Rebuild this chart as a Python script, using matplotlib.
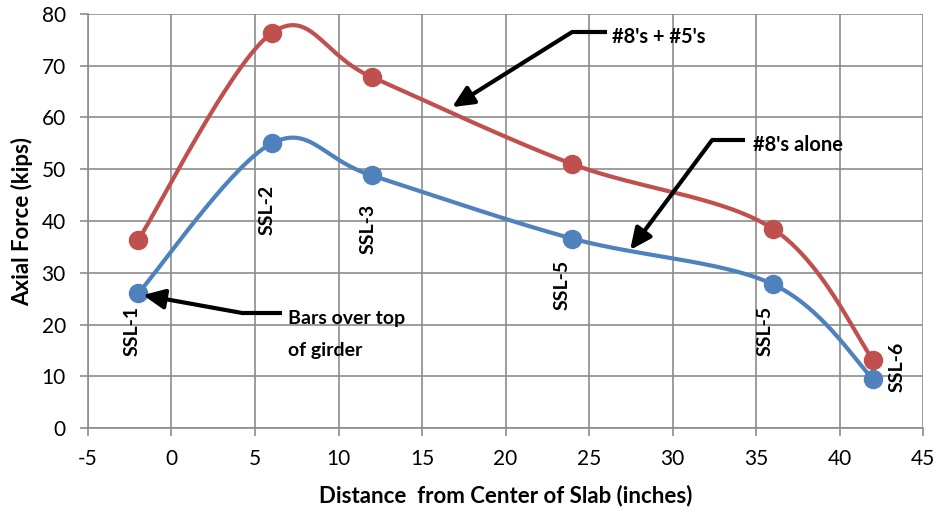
import numpy as np
import matplotlib
matplotlib.use("Agg")
import matplotlib.pyplot as plt

# Data
x_vals = [-2, 6, 12, 24, 36, 42]
red_vals = [36.3, 76.3, 67.8, 51.0, 38.5, 13.2]   # #8's + #5's
blue_vals = [26.0, 55.0, 48.8, 36.6, 27.8, 9.5]   # #8's alone
ssl_labels = ["SSL-1", "SSL-2", "SSL-3", "SSL-5", "SSL-5", "SSL-6"]
ssl_pos = [(-2.37, 18.7), (5.72, 42.1), (11.77, 38.5), (23.38, 27.6), (35.54, 18.7), (43.44, 11.8)]
x_ticks = [-5, 0, 5, 10, 15, 20, 25, 30, 35, 40, 45]
y_ticks = [0, 10, 20, 30, 40, 50, 60, 70, 80]

RED = "#C0504D"
BLUE = "#4F81BD"
GRID = "#8C8C8C"
FONT = "Lato"

plt.rcParams['font.family'] = [FONT, 'DejaVu Sans']


def smooth(xs, ys, n=60):
    # Excel-like smoothed line: Catmull-Rom as cubic Bezier
    P = np.column_stack([xs, ys]).astype(float)
    pts = []
    m = len(P)
    for i in range(m - 1):
        p0 = P[i - 1] if i > 0 else P[i]
        p1 = P[i]
        p2 = P[i + 1]
        p3 = P[i + 2] if i + 2 < m else P[i + 1]
        c1 = p1 + (p2 - p0) / 6.0
        c2 = p2 - (p3 - p1) / 6.0
        t = np.linspace(0, 1, n)[:, None]
        seg = ((1 - t) ** 3) * p1 + 3 * ((1 - t) ** 2) * t * c1 + 3 * (1 - t) * t ** 2 * c2 + t ** 3 * p2
        pts.append(seg if i == 0 else seg[1:])
    pts = np.vstack(pts)
    return pts[:, 0], pts[:, 1]


fig = plt.figure(figsize=(9.4, 5.17), dpi=100)
ax = fig.add_axes([0.0936, 0.172, 0.8884, 0.801])

for ys, col in ((red_vals, RED), (blue_vals, BLUE)):
    sx, sy = smooth(x_vals, ys)
    ax.plot(sx, sy, color=col, lw=3.0, solid_capstyle='round', zorder=3)
    ax.plot(x_vals, ys, 'o', color=col, ms=13, zorder=4)

ax.set_xlim(-5, 45)
ax.set_ylim(0, 80)
ax.set_xticks(x_ticks)
ax.set_xticklabels([str(v) for v in x_ticks])
ax.set_yticks(y_ticks)
ax.set_yticklabels([str(v) for v in y_ticks])
ax.grid(True, color=GRID, lw=1.2)
ax.set_axisbelow(True)
for s in ax.spines.values():
    s.set_visible(False)
ax.spines['left'].set_visible(True)
ax.spines['bottom'].set_visible(True)
ax.spines['left'].set_color(GRID)
ax.spines['bottom'].set_color(GRID)
ax.spines['left'].set_linewidth(1.2)
ax.spines['bottom'].set_linewidth(1.2)
ax.tick_params(axis='both', direction='out', length=6, width=1.2, color=GRID, labelsize=15)
ax.tick_params(axis='y', pad=10)
ax.tick_params(axis='x', pad=9)

ax.set_xlabel("Distance  from Center of Slab (inches)", fontsize=16, fontweight='bold', labelpad=11)
ax.set_ylabel("Axial Force (kips)", fontsize=16, fontweight='bold', labelpad=6)

for lab, (lx, ly) in zip(ssl_labels, ssl_pos):
    ax.text(lx, ly, lab, rotation=90, ha='center', va='center', fontsize=14, fontweight='bold', zorder=5)

arrow_kw = dict(arrowstyle='-|>,head_length=1.3,head_width=0.6', color='black', lw=3, shrinkA=0, shrinkB=0)

# #8's + #5's
ax.plot([26.08, 23.98], [76.5, 76.5], color='black', lw=3, solid_capstyle='butt', zorder=5)
ax.annotate("", xy=(16.8, 62.0), xytext=(23.98, 76.5), arrowprops=arrow_kw, zorder=5)
ax.text(26.4, 75.6, "#8's + #5's", fontsize=14.5, fontweight='bold', va='center', ha='left')

# #8's alone
ax.plot([34.34, 32.37], [55.65, 55.65], color='black', lw=3, solid_capstyle='butt', zorder=5)
ax.annotate("", xy=(27.46, 34.4), xytext=(32.37, 55.65), arrowprops=arrow_kw, zorder=5)
ax.text(34.82, 54.7, "#8's alone", fontsize=14.5, fontweight='bold', va='center', ha='left')

# Bars over top of girder
ax.plot([6.62, 4.28], [22.2, 22.2], color='black', lw=3, solid_capstyle='butt', zorder=5)
ax.annotate("", xy=(-1.71, 25.7), xytext=(4.28, 22.2), arrowprops=arrow_kw, zorder=5)
ax.text(6.98, 21.2, "Bars over top", fontsize=14, fontweight='bold', va='center', ha='left')
ax.text(6.98, 15.0, "of girder", fontsize=14, fontweight='bold', va='center', ha='left')

fig.savefig("out.png", dpi=100)
